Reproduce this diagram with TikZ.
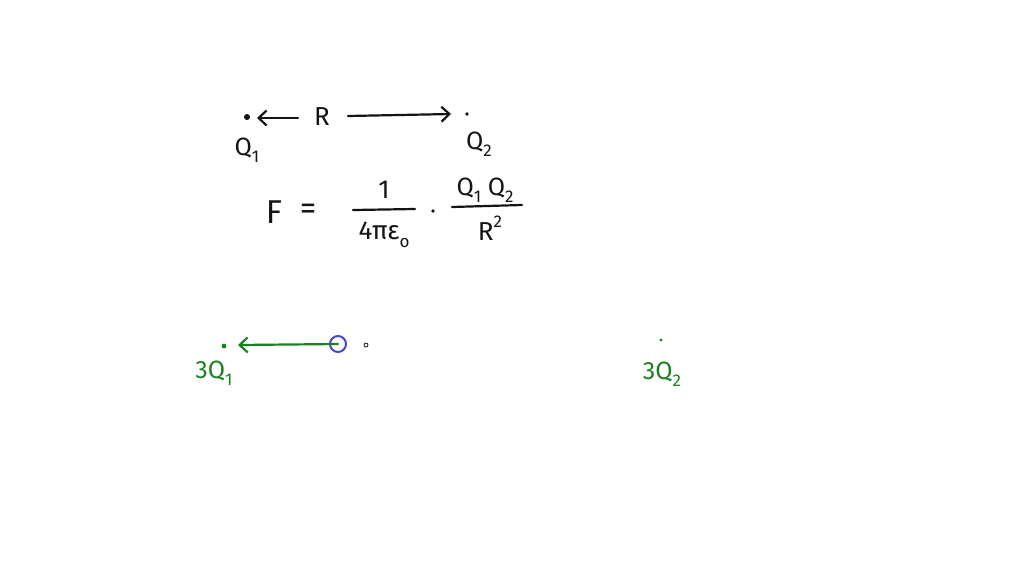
\documentclass[tikz,border=0pt]{standalone}
\usepackage{fontspec}
\setmainfont{Fira Sans}
\usetikzlibrary{arrows.meta}
\definecolor{pen}{RGB}{20,20,20}
\definecolor{grn}{RGB}{25,130,30}
\definecolor{blu}{RGB}{75,70,215}
\newcommand{\sbs}[1]{\raisebox{-0.3em}{\fontsize{17}{19}\selectfont #1}}
\newcommand{\sps}[1]{\raisebox{0.5em}{\fontsize{17}{19}\selectfont #1}}
\tikzset{
  hand/.style={line width=2.2pt, line cap=round, line join=round},
  barb/.style={-{Straight Barb[length=8pt,width=15pt,line width=2.2pt]}},
  txt/.style={inner sep=0pt, font=\fontsize{26}{30}\selectfont},
  big/.style={inner sep=0pt, font=\fontsize{33}{36}\selectfont},
  lbl/.style={inner sep=0pt, font=\fontsize{25}{28}\selectfont},
}
\begin{document}
\begin{tikzpicture}[x=1pt,y=-1pt]
\useasboundingbox[fill=white] (0,0) rectangle (1024,576);
% top diagram
\fill[pen] (247,117) circle (3) coordinate (q1);
\fill[pen] (467,114) circle (1.8) coordinate (q2);
\node[txt,text=pen] (R) at (322,117) {R};
\coordinate (a1s) at (298,118);
\coordinate (a1e) at (257,118);
\coordinate (a2s) at (348,116);
\coordinate (a2e) at (451,114);
\draw[hand,barb,pen] (a1s) -- (a1e);
\draw[hand,barb,pen] (a2s) -- (a2e);
\node[lbl,text=pen] (lq1) at (247,150) {Q\sbs{1}};
\node[lbl,text=pen] (lq2) at (479,144) {Q\sbs{2}};
% formula
\node[big,text=pen] (F) at (274,212) {F};
\node[big,text=pen] (eq) at (308,212) {=};
\node[txt,text=pen] (n1) at (384,190) {1};
\coordinate (f1a) at (353,210);
\coordinate (f1b) at (415,209);
\draw[hand,pen] (f1a) -- (f1b);
\node[txt,text=pen] (d1) at (384,235) {4πε\sbs{o}};
\fill[pen] (433,211) circle (1.8) coordinate (dotm);
\node[lbl,text=pen] (n2) at (485,190) {Q\sbs{1} Q\sbs{2}};
\coordinate (f2a) at (452,207);
\coordinate (f2b) at (522,205);
\draw[hand,pen] (f2a) -- (f2b);
\node[txt,text=pen] (d2) at (490,228) {R\sps{2}};
% green part
\fill[grn] (224,346) circle (2.4) coordinate (g1);
\fill[grn] (661,340) circle (1.6) coordinate (g2);
\node[draw=blu, line width=2pt, circle, minimum size=16pt, inner sep=0pt] (bc) at (338,344) {};
\coordinate (gs) at (bc.center);
\coordinate (ge) at (238,345);
\draw[hand,barb,grn] (gs) -- (ge);
\node[draw=pen, line width=0.8pt, circle, minimum size=4pt, inner sep=0pt] (sc) at (366,345) {};
\node[lbl,text=grn] (l3q1) at (214,373) {3Q\sbs{1}};
\node[lbl,text=grn] (l3q2) at (662,374) {3Q\sbs{2}};
\end{tikzpicture}
\end{document}
